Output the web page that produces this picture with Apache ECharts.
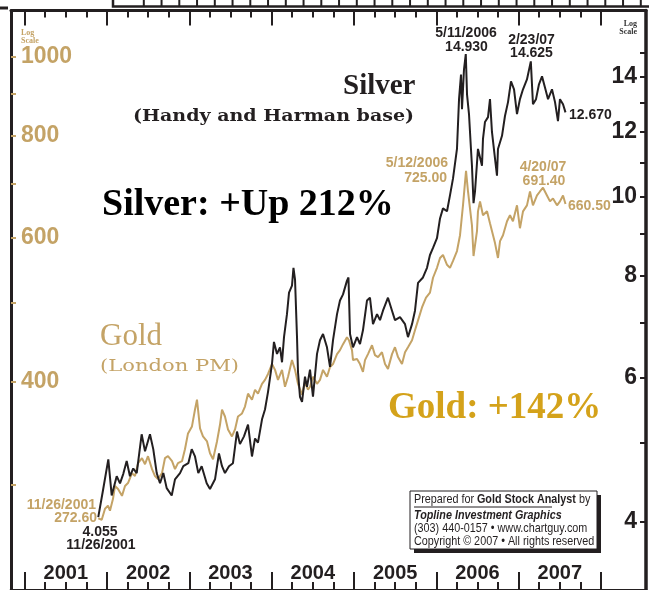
<!DOCTYPE html>
<html><head><meta charset="utf-8">
<script src="https://cdn.jsdelivr.net/npm/echarts@6/dist/echarts.min.js"></script>
<style>html,body{margin:0;padding:0;background:#fff}#c{width:649px;height:590px}</style>
</head><body><div id="c"></div>
<script>
// ---- data (decimal years, prices) ----
const silverYears = [2001.894,2001.951,2002.016,2002.057,2002.118,2002.158,2002.198,2002.239,2002.279,2002.319,
2002.361,2002.421,2002.462,2002.522,2002.562,2002.604,2002.644,2002.684,2002.725,2002.786,
2002.826,2002.887,2002.927,2002.988,2003.029,2003.069,2003.109,2003.150,2003.211,2003.251,
2003.312,2003.360,2003.397,2003.433,2003.482,2003.530,2003.579,2003.615,2003.664,2003.713,
2003.761,2003.798,2003.834,2003.883,2003.919,2003.956,2004.004,2004.028,2004.065,2004.101,
2004.126,2004.150,2004.186,2004.211,2004.247,2004.265,2004.284,2004.308,2004.320,2004.344,
2004.369,2004.405,2004.429,2004.466,2004.502,2004.551,2004.587,2004.624,2004.672,2004.709,
2004.745,2004.794,2004.830,2004.867,2004.915,2004.933,2004.952,2004.988,2005.037,2005.073,
2005.109,2005.158,2005.194,2005.231,2005.280,2005.316,2005.352,2005.413,2005.462,2005.498,
2005.559,2005.620,2005.656,2005.705,2005.741,2005.778,2005.838,2005.887,2005.923,2005.960,
2006.008,2006.045,2006.081,2006.130,2006.166,2006.203,2006.251,2006.276,2006.300,2006.312,
2006.336,2006.358,2006.373,2006.397,2006.421,2006.433,2006.452,2006.470,2006.506,2006.555,
2006.567,2006.591,2006.628,2006.652,2006.676,2006.713,2006.737,2006.749,2006.798,2006.834,
2006.871,2006.907,2006.944,2006.980,2007.016,2007.053,2007.101,2007.148,2007.174,2007.211,
2007.247,2007.284,2007.320,2007.357,2007.405,2007.442,2007.478,2007.502,2007.539,2007.569];
const silverPrices = [4.055,4.37,4.77,4.31,4.55,4.46,4.58,4.75,4.55,4.65,
4.59,5.12,4.88,5.12,4.91,4.59,4.46,4.59,4.40,4.31,
4.51,4.59,4.68,4.72,4.91,4.81,4.59,4.68,4.46,4.39,
4.51,4.85,4.68,4.59,4.68,4.72,5.16,4.98,5.09,5.26,
4.81,5.06,5.00,5.34,5.49,5.77,6.24,6.64,6.42,6.54,
6.27,6.73,7.18,7.63,7.78,8.18,7.91,6.73,6.10,5.69,
5.61,6.02,5.85,6.14,5.69,6.42,6.67,6.79,6.54,6.19,
6.67,7.18,7.46,7.59,7.89,7.96,6.79,6.54,6.73,6.60,
6.86,7.46,7.52,6.98,7.18,7.06,7.25,7.52,7.25,7.06,
7.12,6.98,6.73,6.98,7.25,7.84,7.96,8.18,8.48,8.65,
8.89,9.40,9.67,9.59,10.03,10.52,11.43,13.15,14.09,12.78,
14.29,14.93,13.33,12.61,11.43,10.90,9.81,10.14,11.43,10.90,
11.76,12.33,12.50,13.15,11.99,11.12,10.60,11.43,11.86,12.54,
13.04,13.82,13.52,12.61,13.15,13.52,13.90,14.625,12.96,13.15,
13.71,14.02,13.59,13.15,13.52,13.04,12.36,13.15,12.96,12.67];

const goldYears = [2001.894,2001.936,2001.976,2002.012,2002.036,2002.073,2002.097,2002.134,2002.182,2002.219,
2002.255,2002.304,2002.340,2002.377,2002.425,2002.462,2002.498,2002.547,2002.583,2002.619,
2002.668,2002.704,2002.741,2002.790,2002.826,2002.862,2002.911,2002.947,2002.984,2003.032,
2003.069,2003.093,2003.130,2003.166,2003.215,2003.251,2003.288,2003.336,2003.373,2003.397,
2003.433,2003.470,2003.518,2003.555,2003.591,2003.640,2003.676,2003.713,2003.761,2003.798,
2003.834,2003.883,2003.919,2003.956,2004.004,2004.041,2004.077,2004.126,2004.162,2004.199,
2004.247,2004.284,2004.320,2004.369,2004.405,2004.441,2004.466,2004.502,2004.551,2004.587,
2004.624,2004.672,2004.709,2004.745,2004.794,2004.830,2004.867,2004.915,2004.939,2004.976,
2004.988,2005.037,2005.073,2005.109,2005.134,2005.170,2005.219,2005.255,2005.292,2005.340,
2005.377,2005.413,2005.462,2005.498,2005.535,2005.583,2005.620,2005.656,2005.705,2005.741,
2005.778,2005.826,2005.875,2005.923,2005.960,2006.008,2006.045,2006.081,2006.130,2006.166,
2006.203,2006.251,2006.288,2006.324,2006.361,2006.385,2006.409,2006.433,2006.452,2006.470,
2006.494,2006.506,2006.531,2006.567,2006.616,2006.652,2006.689,2006.713,2006.749,2006.774,
2006.810,2006.859,2006.895,2006.931,2006.980,2007.016,2007.053,2007.101,2007.138,2007.174,
2007.223,2007.259,2007.296,2007.344,2007.381,2007.417,2007.466,2007.502,2007.539,2007.569];
const goldPrices = [272.6,271.5,280.1,282.5,278.5,288.0,298.6,296.1,290.4,298.6,
301.1,309.6,307.0,318.4,322.9,317.5,324.7,313.1,307.0,304.5,
309.6,322.9,324.7,320.2,313.1,318.4,320.2,331.1,346.2,353.1,
370.3,380.7,351.1,343.3,338.5,327.4,322.0,338.5,355.0,370.3,
363.1,350.1,343.3,350.1,363.1,366.2,373.4,387.2,380.7,391.5,
387.2,398.1,402.5,409.3,420.9,414.0,402.5,414.0,394.8,406.0,
425.6,414.0,398.1,386.1,400.3,391.5,394.8,406.0,398.1,402.5,
414.0,406.0,417.4,420.9,432.8,437.7,445.1,453.9,450.1,437.7,
425.6,426.8,420.9,411.7,425.6,432.8,443.8,431.6,429.2,435.2,
420.9,415.2,432.8,441.3,429.2,420.9,435.2,441.3,450.1,462.8,
475.9,493.5,507.5,514.6,536.6,551.8,567.3,572.1,556.5,551.8,
562.7,578.5,604.9,657.9,725.0,684.1,652.3,622.0,570.5,567.3,
611.7,646.9,665.3,639.8,646.9,625.6,604.9,591.6,567.3,594.9,
604.9,629.1,639.8,629.1,657.9,616.9,646.9,657.9,684.1,657.9,
676.5,684.1,691.4,676.5,665.3,670.9,657.9,665.3,676.5,660.5];

const yearLabels = ['2001','2002','2003','2004','2005','2006','2007'];
const yearTicks = [2001,2002,2003,2004,2005,2006,2007,2008];
const goldTicks = [300,400,500,600,700,800,900,1000];
const goldLabels = [400,600,800,1000];
const silverTicks = [4,5,6,7,8,9,10,11,12,13,14,15];
const silverLabels = [4,6,8,10,12,14];

// ---- styling / layout ----
const INK = '#231f20', TAN = '#c4a366', GOLDTXT = '#d4a21a';
const X_MIN = 2000.834, X_MAX = 2008.547;
const G_MIN = 222.8, G_MAX = 1138.6, S_MIN = 3.303, S_MAX = 16.876;
const quarterTicks = [];
yearTicks.slice(0, -1).forEach(y => { quarterTicks.push(y + 0.25, y + 0.5, y + 0.75); });
const yearLabelPos = yearLabels.map(s => +s + 0.5);

const chart = echarts.init(document.getElementById('c'), null, {renderer: 'canvas'});
const SANS = '"Liberation Sans", Arial, sans-serif';
const SERIF = '"Liberation Serif", "Times New Roman", serif';
const DJS = '"DejaVu Serif", serif';
const noSplit = {show: false};

function xAx(extra) {
  return Object.assign({type: 'value', min: X_MIN, max: X_MAX, splitLine: noSplit,
    axisLine: {show: false, onZero: false}, axisLabel: {show: false}}, extra);
}

const texts = [];
function T(text, x, y, font, fill, align, vAlign, sx) {
  texts.push({type: 'text', x: x, y: y, z: 100, scaleX: sx || 1,
    style: {text: text, font: font, fill: fill, align: align || 'left', verticalAlign: vAlign || 'middle'}});
}
const AF = 'bold 14px ' + SANS;
T('Log\nScale', 21, 29, 'bold 8px ' + SERIF, TAN, 'left', 'top');
T('Log\nScale', 637, 20, 'bold 8px ' + SERIF, '#333', 'right', 'top');
T('Silver', 343, 87, 'bold 29px ' + SERIF, INK);
T('(Handy and Harman base)', 133, 117, 'bold 16px ' + DJS, INK, 'left', 'middle', 1.19);
T('Silver: +Up 212%', 102, 205, 'bold 38px ' + SERIF, '#000');
T('Gold', 100, 337, '31px ' + SERIF, TAN);
T('(London PM)', 100, 367, '17px ' + DJS, TAN, 'left', 'middle', 1.24);
T('Gold: +142%', 388, 408, 'bold 37px ' + SERIF, GOLDTXT);
T('5/11/2006', 466, 33, AF, INK, 'center');
T('14.930', 466.5, 47, AF, INK, 'center');
T('2/23/07', 531.5, 40, AF, INK, 'center');
T('14.625', 531.5, 53, AF, INK, 'center');
T('12.670', 569, 115, AF, INK, 'left');
T('5/12/2006', 448, 163, AF, TAN, 'right');
T('725.00', 447, 178, AF, TAN, 'right');
T('4/20/07', 543, 167, AF, TAN, 'center');
T('691.40', 544, 181, AF, TAN, 'center');
T('660.50', 568, 206, AF, TAN, 'left');
T('11/26/2001', 96, 505, AF, TAN, 'right');
T('272.60', 97, 518, AF, TAN, 'right');
T('4.055', 100, 532, AF, INK, 'center');
T('11/26/2001', 101, 545, AF, INK, 'center');

const BX = 0.83;
const boxEls = [
  {type: 'rect', shape: {x: 414, y: 495, width: 187, height: 58}, style: {fill: INK}, z: 90},
  {type: 'rect', shape: {x: 410, y: 491, width: 187, height: 58}, style: {fill: '#fff', stroke: INK, lineWidth: 1}, z: 91},
  {type: 'text', x: 414, y: 499, z: 100, scaleX: BX, style: {text: '{a|Prepared for }{b|Gold Stock Analyst}{a| by}', verticalAlign: 'middle',
    rich: {a: {font: '13px ' + SANS, fill: INK}, b: {font: 'bold 13px ' + SANS, fill: INK}}}},
  {type: 'line', shape: {x1: 414, y1: 507, x2: 552, y2: 507}, style: {stroke: INK, lineWidth: 1}, z: 100},
  {type: 'text', x: 414, y: 515, z: 100, scaleX: BX, style: {text: 'Topline Investment Graphics', font: 'italic bold 13px ' + SANS, fill: INK, verticalAlign: 'middle'}},
  {type: 'text', x: 414, y: 528, z: 100, scaleX: BX, style: {text: '(303) 440-0157 \u2022 www.chartguy.com', font: '13px ' + SANS, fill: INK, verticalAlign: 'middle'}},
  {type: 'text', x: 414, y: 541, z: 100, scaleX: BX, style: {text: 'Copyright \u00a9 2007 \u2022 All rights reserved', font: '13px ' + SANS, fill: INK, verticalAlign: 'middle'}}
];

// decorative strip above the frame (edge of the neighbouring panel)
const deco = [
  {type: 'polyline', shape: {points: [[113, 0], [113, 6.5], [649, 6.5]]}, style: {stroke: INK, lineWidth: 2.5, fill: null}, z: 100},
  {type: 'line', shape: {x1: 0, y1: 8, x2: 8, y2: 8}, style: {stroke: INK, lineWidth: 3}, z: 100}
];
for (let x = 143.8; x < 645; x += 17.75) {
  deco.push({type: 'line', shape: {x1: x, y1: 6.5, x2: x, y2: 0}, style: {stroke: INK, lineWidth: 2}, z: 100});
}

const option = {
  animation: false,
  backgroundColor: '#fff',
  grid: {left: 11, right: 3, top: 10.5, bottom: -5, containLabel: false},
  xAxis: [
    xAx({position: 'bottom',
      axisLine: {show: true, onZero: false, lineStyle: {color: INK, width: 3}},
      axisTick: {show: true, inside: true, length: 18, customValues: yearTicks, lineStyle: {color: INK, width: 2}},
      axisLabel: {show: true, inside: true, margin: 7, customValues: yearLabelPos,
        formatter: v => yearLabels[Math.floor(v + 1e-6) - 2001] || '',
        color: INK, fontFamily: SANS, fontWeight: 'bold', fontSize: 20}}),
    xAx({position: 'bottom',
      axisTick: {show: true, inside: true, length: 8, customValues: quarterTicks, lineStyle: {color: INK, width: 2}}}),
    xAx({position: 'top',
      axisLine: {show: true, onZero: false, lineStyle: {color: INK, width: 3}},
      axisTick: {show: true, inside: true, length: 15, customValues: yearTicks, lineStyle: {color: INK, width: 2}}}),
    xAx({position: 'top',
      axisTick: {show: true, inside: true, length: 7, customValues: quarterTicks, lineStyle: {color: INK, width: 2}}})
  ],
  yAxis: [
    {type: 'log', logBase: 10, min: G_MIN, max: G_MAX, position: 'left', splitLine: noSplit,
      axisLine: {show: true, onZero: false, lineStyle: {color: INK, width: 3}},
      axisTick: {show: true, inside: true, length: 5, customValues: goldTicks, lineStyle: {color: TAN, width: 2}},
      axisLabel: {show: true, inside: true, margin: 10, customValues: goldLabels,
        formatter: v => String(Math.round(v)),
        color: TAN, fontFamily: SANS, fontWeight: 'bold', fontSize: 23}},
    {type: 'log', logBase: 10, min: S_MIN, max: S_MAX, position: 'right', splitLine: noSplit,
      axisLine: {show: true, onZero: false, lineStyle: {color: INK, width: 3.5}},
      axisTick: {show: true, inside: true, length: 6, customValues: silverTicks, lineStyle: {color: INK, width: 2}},
      axisLabel: {show: true, inside: true, margin: 9, customValues: silverLabels,
        formatter: v => String(Math.round(v)),
        color: INK, fontFamily: SANS, fontWeight: 'bold', fontSize: 23}}
  ],
  series: [
    {name: 'Gold', type: 'line', xAxisIndex: 0, yAxisIndex: 0, symbol: 'none', z: 2,
      lineStyle: {color: TAN, width: 2}, data: goldYears.map((y, i) => [y, goldPrices[i]])},
    {name: 'Silver', type: 'line', xAxisIndex: 0, yAxisIndex: 1, symbol: 'none', z: 3,
      lineStyle: {color: INK, width: 2}, data: silverYears.map((y, i) => [y, silverPrices[i]])}
  ],
  graphic: texts.concat(boxEls, deco)
};
chart.setOption(option);
</script>
</body></html>
